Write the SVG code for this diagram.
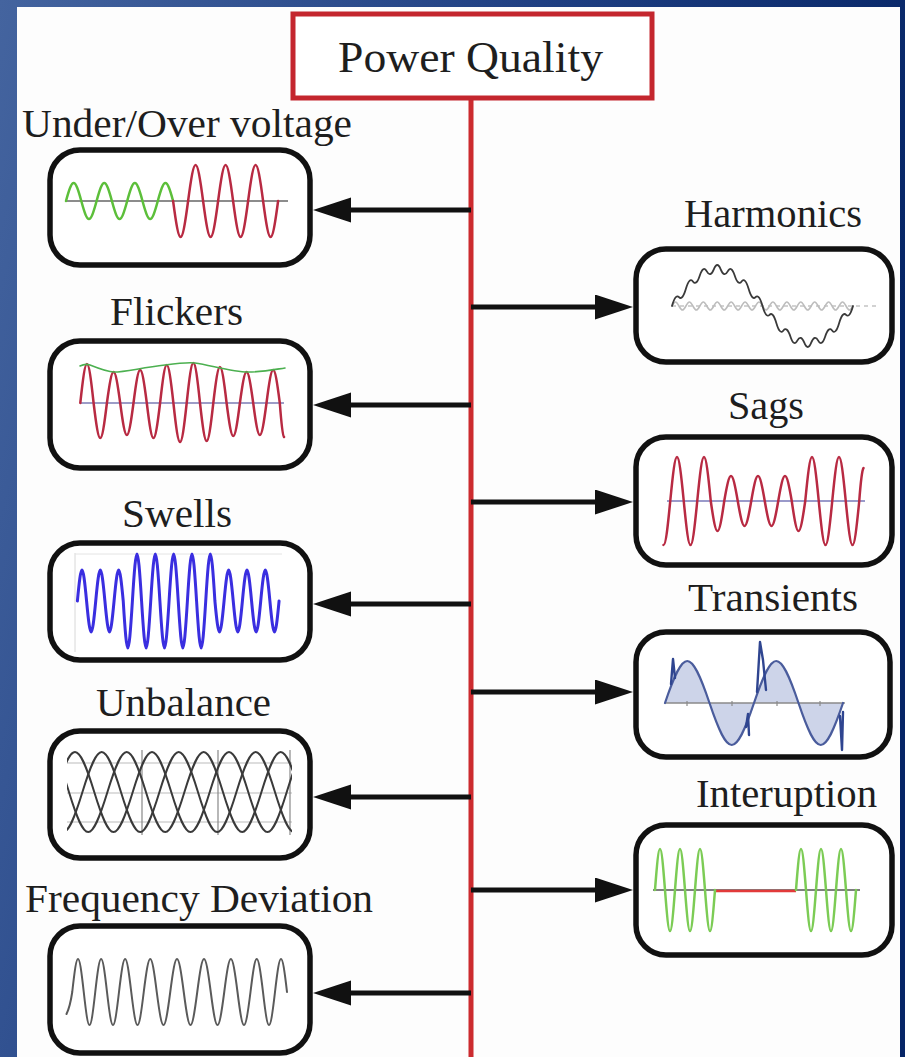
<svg xmlns="http://www.w3.org/2000/svg" width="905" height="1057" viewBox="0 0 905 1057">
  <defs>
    <linearGradient id="frame" x1="0" y1="0" x2="1" y2="0.3">
      <stop offset="0" stop-color="#44649f"/>
      <stop offset="0.55" stop-color="#1f3f82"/>
      <stop offset="1" stop-color="#062566"/>
    </linearGradient>
    <marker id="head" markerUnits="userSpaceOnUse" markerWidth="38" markerHeight="26" refX="8" refY="12.5" orient="auto">
      <path d="M0,0 L38,12.5 L0,25 Z" fill="#111"/>
    </marker>
    <clipPath id="clip-unbalance">
      <rect x="67" y="735" width="225" height="120"/>
    </clipPath>
  </defs>
  <style>
    .lbl { font-family: "Liberation Serif", "Times New Roman", serif; font-size: 40px; fill: #1e1e1e; }
    .title { font-family: "Liberation Serif", "Times New Roman", serif; font-size: 45px; fill: #1e1e1e; }
    .box { fill: #ffffff; stroke: #111111; stroke-width: 5.5; }
    .conn { stroke: #111111; stroke-width: 5; fill: none; }
    .wave { fill: none; stroke-linejoin: round; stroke-linecap: round; }
    .red { stroke: #b82a42; stroke-width: 2.5; }
    .axis { stroke-width: 1.5; fill: none; }
  </style>

  <!-- framed page -->
  <rect x="0" y="0" width="905" height="1057" fill="url(#frame)"/>
  <rect x="17" y="7" width="883" height="1050" fill="#fdfdfd"/>

  <!-- connectors: red trunk plus branch arrows -->
  <g id="connectors">
    <line x1="471" y1="98" x2="471" y2="1057" stroke="#cc2b2f" stroke-width="5"/>
    <line class="conn" x1="471" y1="210" x2="343" y2="210" marker-end="url(#head)"/>
    <line class="conn" x1="471" y1="405" x2="343" y2="405" marker-end="url(#head)"/>
    <line class="conn" x1="471" y1="604" x2="343" y2="604" marker-end="url(#head)"/>
    <line class="conn" x1="471" y1="797" x2="343" y2="797" marker-end="url(#head)"/>
    <line class="conn" x1="471" y1="993" x2="343" y2="993" marker-end="url(#head)"/>
    <line class="conn" x1="471" y1="307" x2="603" y2="307" marker-end="url(#head)"/>
    <line class="conn" x1="471" y1="502" x2="603" y2="502" marker-end="url(#head)"/>
    <line class="conn" x1="471" y1="692" x2="603" y2="692" marker-end="url(#head)"/>
    <line class="conn" x1="471" y1="890" x2="603" y2="890" marker-end="url(#head)"/>
  </g>

  <!-- root -->
  <g id="node-power-quality">
    <rect x="293" y="14" width="359" height="84" fill="#ffffff" stroke="#c4262e" stroke-width="5"/>
    <text class="title" x="338" y="72" textLength="265" lengthAdjust="spacingAndGlyphs">Power Quality</text>
  </g>

  <!-- under / over voltage -->
  <g id="node-under-over-voltage">
    <text class="lbl" x="22" y="137" textLength="330" lengthAdjust="spacingAndGlyphs">Under/Over voltage</text>
    <rect class="box" x="50" y="150" width="260" height="115" rx="30"/>
    <line class="axis" x1="66" y1="201" x2="288" y2="201" stroke="#666"/>
    <path class="wave" stroke="#5cbf3a" stroke-width="2.5" d="M66,201 C72.49,177 74.81,177 81.3,201 S90.11,225 96.6,201 S105.41,177 111.9,201 S120.71,225 127.2,201 S136.01,177 142.5,201 S151.31,225 157.8,201 S166.61,177 173.1,201"/>
    <path class="wave red" d="M173.1,201 C179.47,249 181.73,249 188.1,201 S196.73,153 203.1,201 S211.73,249 218.1,201 S226.73,153 233.1,201 S241.73,249 248.1,201 S256.73,153 263.1,201 S271.73,249 278.1,201"/>
  </g>

  <!-- flickers -->
  <g id="node-flickers">
    <text class="lbl" x="110" y="325" textLength="133" lengthAdjust="spacingAndGlyphs">Flickers</text>
    <rect class="box" x="50" y="341" width="260" height="127" rx="30"/>
    <line class="axis" x1="80" y1="403" x2="284" y2="403" stroke="#7b7bb5"/>
    <path class="wave red" d="M80.3,403 C85.95,351 87.96,351 93.6,403 C99.25,449.7 101.26,449.7 106.9,403 C112.55,361.7 114.56,361.7 120.2,403 C125.85,445.7 127.86,445.7 133.5,403 C139.15,359 141.16,359 146.8,403 C152.45,449.7 154.46,449.7 160.1,403 C165.75,352.3 167.76,352.3 173.4,403 C179.05,455 181.06,455 186.7,403 C192.35,349.7 194.36,349.7 200,403 C205.65,453.7 207.66,453.7 213.3,403 C218.95,355 220.96,355 226.6,403 C232.25,447 234.26,447 239.9,403 C245.55,361.7 247.56,361.7 253.2,403 C258.85,445.7 260.86,445.7 266.5,403 C272.15,359 274.16,359 279.8,403 C282,432 283,436 284,437"/>
    <path class="wave" stroke="#4cb050" stroke-width="1.6" d="M80,366 C84,364 87,364 90,365 C100,369 108,372 114,372 C125,372 140,368 165,365 C180,363 188,362 195,363 C210,365 232,372 248,372 C262,372 272,370 285,368"/>
  </g>

  <!-- swells -->
  <g id="node-swells">
    <text class="lbl" x="122" y="527" textLength="110" lengthAdjust="spacingAndGlyphs">Swells</text>
    <rect class="box" x="50" y="543" width="260" height="117" rx="30"/>
    <line x1="75" y1="553" x2="75" y2="652" stroke="#d8d8d8" stroke-width="1"/>
    <line x1="75" y1="554" x2="282" y2="554" stroke="#e4e4e4" stroke-width="1"/>
    <path class="wave" stroke="#3a2ee0" stroke-width="3" d="M77.4,601 C81.29,559.7 82.68,559.7 86.57,601 S91.84,642.3 95.73,601 S101.01,559.7 104.9,601 S110.18,642.3 114.07,601 S119.34,559.7 123.23,601 C127.12,663.7 128.51,663.7 132.4,601 S137.68,538.3 141.57,601 S146.84,663.7 150.73,601 S156.01,538.3 159.9,601 S165.18,663.7 169.07,601 S174.34,538.3 178.23,601 S183.51,663.7 187.4,601 S192.68,538.3 196.57,601 S201.84,663.7 205.73,601 S211.01,538.3 214.9,601 C218.79,642.3 220.18,642.3 224.07,601 S229.34,559.7 233.23,601 S238.51,642.3 242.4,601 S247.68,559.7 251.57,601 S256.84,642.3 260.73,601 S266.01,559.7 269.9,601 S275.18,642.3 279.07,601"/>
  </g>

  <!-- unbalance -->
  <g id="node-unbalance">
    <text class="lbl" x="96" y="716" textLength="175" lengthAdjust="spacingAndGlyphs">Unbalance</text>
    <rect class="box" x="50" y="731" width="260" height="127" rx="30"/>
    <g stroke="#bbbbbb" stroke-width="1.2">
      <line x1="67" y1="763" x2="292" y2="763"/>
      <line x1="67" y1="793" x2="292" y2="793"/>
      <line x1="67" y1="822" x2="292" y2="822"/>
    </g>
    <g stroke="#888888" stroke-width="1.2">
      <line x1="142" y1="750" x2="142" y2="835"/>
      <line x1="218" y1="750" x2="218" y2="835"/>
      <line x1="290" y1="750" x2="290" y2="835"/>
    </g>
    <g clip-path="url(#clip-unbalance)" class="wave" stroke="#3a3a3a" stroke-width="2">
      <path d="M55.75,792 C72.09,738.7 77.91,738.7 94.25,792 S116.41,845.3 132.75,792 S154.91,738.7 171.25,792 S193.41,845.3 209.75,792 S231.91,738.7 248.25,792 S270.41,845.3 286.75,792 S308.91,738.7 325.25,792"/>
      <path d="M43.95,792 C60.29,845.3 66.11,845.3 82.45,792 S104.61,738.7 120.95,792 S143.11,845.3 159.45,792 S181.61,738.7 197.95,792 S220.11,845.3 236.45,792 S258.61,738.7 274.95,792 S297.11,845.3 313.45,792"/>
      <path d="M30.45,792 C46.79,738.7 52.61,738.7 68.95,792 S91.11,845.3 107.45,792 S129.61,738.7 145.95,792 S168.11,845.3 184.45,792 S206.61,738.7 222.95,792 S245.11,845.3 261.45,792 S283.61,738.7 299.95,792"/>
    </g>
  </g>

  <!-- frequency deviation -->
  <g id="node-frequency-deviation">
    <text class="lbl" x="25" y="912" textLength="348" lengthAdjust="spacingAndGlyphs">Frequency Deviation</text>
    <rect class="box" x="50" y="926" width="260" height="127" rx="30"/>
    <path class="wave" stroke="#5a5a5a" stroke-width="2" d="M66.5,1014 C68.5,1010 70.6,1003 72.25,992 C77.13,948 78.87,948 83.75,992 C88.63,1036 90.37,1036 95.25,992 C100.24,948 102.01,948 107,992 C112.09,1036 113.91,1036 119,992 C124.2,948 126.05,948 131.25,992 C136.56,1036 138.44,1036 143.75,992 C149.27,948 151.23,948 156.75,992 C162.48,1036 164.52,1036 170.25,992 C175.98,948 178.02,948 183.75,992 C189.48,1036 191.52,1036 197.25,992 C202.98,948 205.02,948 210.75,992 C216.48,1036 218.52,1036 224.25,992 C229.87,948 231.88,948 237.5,992 C243.02,1036 244.98,1036 250.5,992 C255.81,948 257.69,948 263,992 C268.09,1036 269.91,1036 275,992 C280.09,948 281.91,948 287,992"/>
  </g>

  <!-- harmonics -->
  <g id="node-harmonics">
    <text class="lbl" x="684" y="227" textLength="178" lengthAdjust="spacingAndGlyphs">Harmonics</text>
    <rect class="box" x="636" y="249" width="256" height="113" rx="30"/>
    <line x1="672" y1="306" x2="878" y2="306" stroke="#c4c4c4" stroke-width="1.5" stroke-dasharray="4 4"/>
    <path class="wave" stroke="#bdbdbd" stroke-width="1.6" d="M672,306 C674.95,300.67 676.01,300.67 678.96,306 S682.97,311.33 685.92,306 S689.93,300.67 692.88,306 S696.89,311.33 699.84,306 S703.85,300.67 706.8,306 S710.81,311.33 713.76,306 S717.77,300.67 720.72,306 S724.73,311.33 727.68,306 S731.69,300.67 734.64,306 S738.65,311.33 741.6,306 S745.61,300.67 748.56,306 S752.57,311.33 755.52,306 S759.53,300.67 762.48,306 S766.49,311.33 769.44,306 S773.45,300.67 776.4,306 S780.41,311.33 783.36,306 S787.37,300.67 790.32,306 S794.33,311.33 797.28,306 S801.29,300.67 804.24,306 S808.25,311.33 811.2,306 S815.21,300.67 818.16,306 S822.17,311.33 825.12,306 S829.13,300.67 832.08,306 S836.09,311.33 839.04,306 S843.05,300.67 846,306 S850.01,311.33 852.96,306"/>
    <path class="wave" stroke="#3a3a3a" stroke-width="1.8" d="M672,306 Q675.5,293.45 679,297.1 Q682.4,300.85 685.9,288.8 Q689.4,276.85 692.9,281.5 Q696.4,286.1 699.8,275.5 Q703.3,264.95 706.8,271.4 Q710.3,277.85 713.8,269.3 Q717.3,260.7 720.7,269.3 Q724.2,277.85 727.7,271.4 Q731.2,264.95 734.7,275.5 Q738.1,286.1 741.6,281.5 Q745.1,276.85 748.6,288.8 Q752.1,300.85 755.5,297.1 Q759,293.45 762.5,306 Q766,318.55 769.5,314.9 Q772.9,311.15 776.4,323.2 Q779.9,335.15 783.4,330.5 Q786.9,325.9 790.4,336.5 Q793.8,347.05 797.3,340.6 Q800.8,334.15 804.3,342.7 Q807.8,351.3 811.2,342.7 Q814.7,334.15 818.2,340.6 Q821.7,347.05 825.2,336.5 Q828.6,325.9 832.1,330.5 Q835.6,335.15 839.1,323.2 Q842.6,311.15 846.1,314.9 Q849.5,318.55 853,306"/>
  </g>

  <!-- sags -->
  <g id="node-sags">
    <text class="lbl" x="728" y="419" textLength="76" lengthAdjust="spacingAndGlyphs">Sags</text>
    <rect class="box" x="636" y="437" width="256" height="128" rx="30"/>
    <line class="axis" x1="667" y1="501" x2="865" y2="501" stroke="#7878b8"/>
    <path class="wave red" d="M663.5,545 C665.9,545 667.9,525.2 670.25,501 C675.98,442.3 678.02,442.3 683.75,501 S691.52,559.7 697.25,501 S705.02,442.3 710.75,501 C716.48,541 718.52,541 724.25,501 C729.98,467.7 732.02,467.7 737.75,501 S745.52,534.3 751.25,501 S759.02,467.7 764.75,501 S772.52,534.3 778.25,501 S786.02,467.7 791.75,501 C797.48,541 799.52,541 805.25,501 C810.98,442.3 813.02,442.3 818.75,501 S826.52,559.7 832.25,501 S840.02,442.3 845.75,501 S853.52,559.7 859.25,501 C861.2,475 862.2,470 863.5,468"/>
  </g>

  <!-- transients -->
  <g id="node-transients">
    <text class="lbl" x="688" y="611" textLength="170" lengthAdjust="spacingAndGlyphs">Transients</text>
    <rect class="box" x="636" y="632" width="254" height="125" rx="30"/>
    <path d="M665,703 C683.89,647 690.61,647 709.5,703 S735.11,759 754,703 S779.61,647 798.5,703 S824.11,759 843,703 Z" fill="#cdd4e9" stroke="none"/>
    <line class="axis" x1="665" y1="703" x2="845" y2="703" stroke="#8a8a8a"/>
    <g stroke="#8a8a8a" stroke-width="1.2">
      <line x1="687" y1="701" x2="687" y2="706"/>
      <line x1="732" y1="701" x2="732" y2="706"/>
      <line x1="777" y1="701" x2="777" y2="706"/>
      <line x1="820" y1="701" x2="820" y2="706"/>
    </g>
    <path class="wave" stroke="#4a5c9c" stroke-width="2.2" d="M665,703 C683.89,647 690.61,647 709.5,703 S735.11,759 754,703 S779.61,647 798.5,703 S824.11,759 843,703"/>
    <g class="wave" stroke="#2f4590" stroke-width="2.4">
      <polyline points="671,684 673,659 675,678"/>
      <polyline points="746,727 748,714 749,735"/>
      <polyline points="757,692 760,642 763,660 766,690"/>
      <polyline points="840,716 842,750 843,712"/>
    </g>
  </g>

  <!-- interruption -->
  <g id="node-interuption">
    <text class="lbl" x="696" y="807" textLength="181" lengthAdjust="spacingAndGlyphs">Interuption</text>
    <rect class="box" x="636" y="825" width="256" height="130" rx="30"/>
    <line class="axis" x1="653" y1="890" x2="860" y2="890" stroke="#555"/>
    <line x1="715" y1="891" x2="796" y2="891" stroke="#e23a3a" stroke-width="2.5"/>
    <g class="wave" stroke="#7ccc55" stroke-width="2.5">
      <path d="M655,890 C659.24,835.3 660.76,835.3 665,890 S670.76,944.7 675,890 S680.76,835.3 685,890 S690.76,944.7 695,890 S700.76,835.3 705,890 S710.76,944.7 715,890"/>
      <path d="M796,890 C800.24,835.3 801.76,835.3 806,890 S811.76,944.7 816,890 S821.76,835.3 826,890 S831.76,944.7 836,890 S841.76,835.3 846,890 S851.76,944.7 856,890"/>
    </g>
  </g>
</svg>
